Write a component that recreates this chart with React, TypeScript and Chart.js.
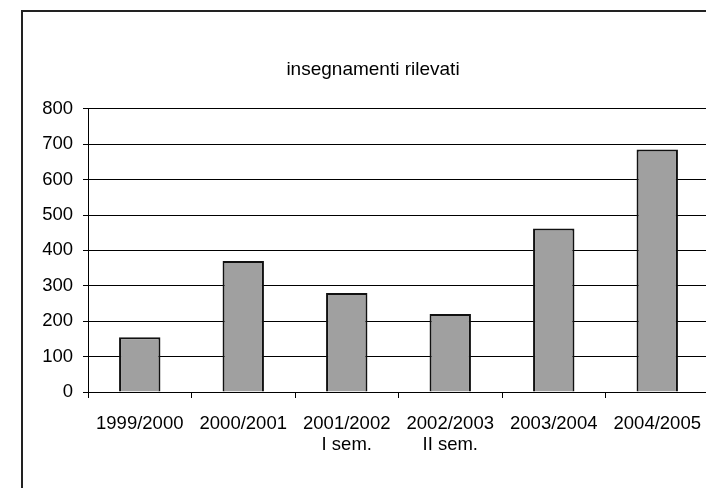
import React, { useEffect, useRef } from "react";
import { Chart, registerables } from "chart.js";

Chart.register(...registerables);

const categories: (string | string[])[] = [
  "1999/2000",
  "2000/2001",
  ["2001/2002", "I sem."],
  ["2002/2003", "II sem."],
  "2003/2004",
  "2004/2005",
];
const values: number[] = [155, 370, 280, 220, 462, 685];
const chartTitle = "insegnamenti rilevati";
const yMin = 0;
const yMax = 800;
const yStep = 100;

const FONT = "'Liberation Sans', Arial, sans-serif";

export default function App() {
  const ref = useRef<HTMLCanvasElement | null>(null);

  useEffect(() => {
    if (!ref.current) return;
    const chart = new Chart(ref.current, {
      type: "bar",
      data: {
        labels: categories,
        datasets: [
          {
            data: values,
            backgroundColor: "#a0a0a0",
            borderColor: "#111111",
            borderWidth: 2,
            categoryPercentage: 1,
            barPercentage: 0.4,
          },
        ],
      },
      options: {
        responsive: false,
        animation: false,
        devicePixelRatio: 1,
        layout: { padding: { top: 58, left: 37, right: 11, bottom: 0 } },
        plugins: {
          legend: { display: false },
          tooltip: { enabled: false },
          title: {
            display: true,
            text: chartTitle,
            color: "#000",
            font: { family: FONT, size: 19, weight: "normal", lineHeight: 1.2 },
            padding: { top: 0, bottom: 28 },
          },
        },
        scales: {
          x: {
            afterFit: (scale: any) => {
              scale.height = 96;
            },
            grid: {
              offset: true,
              drawOnChartArea: false,
              drawTicks: true,
              tickLength: 6,
              color: "#000",
            },
            border: { display: true, color: "#000", width: 1 },
            ticks: {
              color: "#000",
              font: { family: FONT, size: 18.5, lineHeight: 1.1 },
              padding: 16,
              maxRotation: 0,
              autoSkip: false,
            },
          },
          y: {
            min: yMin,
            max: yMax,
            afterFit: (scale: any) => {
              scale.width = 51;
            },
            grid: { color: "#000", lineWidth: 1, tickLength: 5 },
            border: { display: true, color: "#000", width: 1 },
            ticks: {
              stepSize: yStep,
              color: "#000",
              font: { family: FONT, size: 18.5 },
              padding: 10,
            },
          },
        },
      },
    });
    return () => chart.destroy();
  }, []);

  return (
    <div
      style={{
        position: "fixed",
        left: 0,
        top: 0,
        width: 706,
        height: 488,
        overflow: "hidden",
        background: "#fff",
      }}
    >
      <canvas
        ref={ref}
        width={720}
        height={488}
        style={{ position: "absolute", left: 0, top: 0, width: 720, height: 488 }}
      />
      <div
        style={{
          position: "absolute",
          left: 21,
          top: 10,
          width: 800,
          height: 600,
          border: "2px solid #222",
          pointerEvents: "none",
        }}
      />
    </div>
  );
}
